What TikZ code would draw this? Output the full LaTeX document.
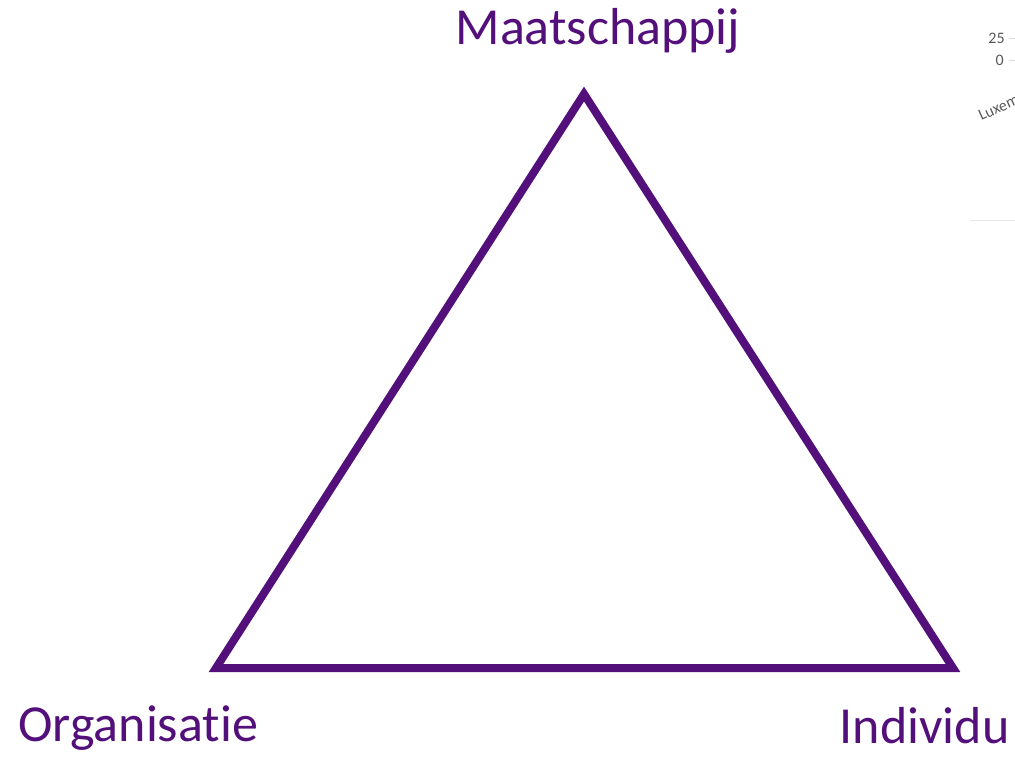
\documentclass[tikz,border=0pt]{standalone}
\usepackage{fontspec}
\setmainfont{Carlito}[Ligatures=NoCommon]
\usepackage{tikz}
\usetikzlibrary{calc}
\usepackage{xcolor}
\definecolor{paars}{HTML}{53107A}
\definecolor{asgrijs}{HTML}{595959}
\definecolor{lijngrijs}{HTML}{D9D9D9}

\begin{document}
\begin{tikzpicture}[x=0.5pt,y=-0.5pt,line join=miter,
    hoek/.style={paars,font=\fontsize{26}{30}\selectfont,inner sep=0pt},
    asje/.style={asgrijs,font=\fontsize{8}{10}\selectfont,inner sep=0pt}]
  \useasboundingbox (0,0) rectangle (1015,756);
  % three corners of the triangle
  \coordinate (M) at (584,94);
  \coordinate (O) at (216,668);
  \coordinate (I) at (953,668);
  \draw[paars,line width=4pt] (M)--(I)--(O)--cycle;
  \node[hoek,anchor=base] (maat) at (598,44) {Maatschappij};
  \node[hoek,anchor=base west] (org) at (18,741) {Organisatie};
  \node[hoek,anchor=base east] (ind) at (1010,743) {Individu};
  % remnant of a chart at the right edge
  \node[asje,anchor=east] (v25) at (1005,38) {25};
  \node[asje,anchor=east] (v0) at (1004,60) {0};
  \draw[lijngrijs,line width=0.5pt] (v25.east)++(4,0) -- ++(8,0);
  \draw[lijngrijs,line width=0.5pt] (v0.east)++(5,0) -- ++(8,0);
  \node[asje,anchor=base west,rotate=24] (lux) at (981,121) {Luxem};
  \draw[lijngrijs!60,line width=0.5pt] (970,220) -- (1015,220);
\end{tikzpicture}
\end{document}
